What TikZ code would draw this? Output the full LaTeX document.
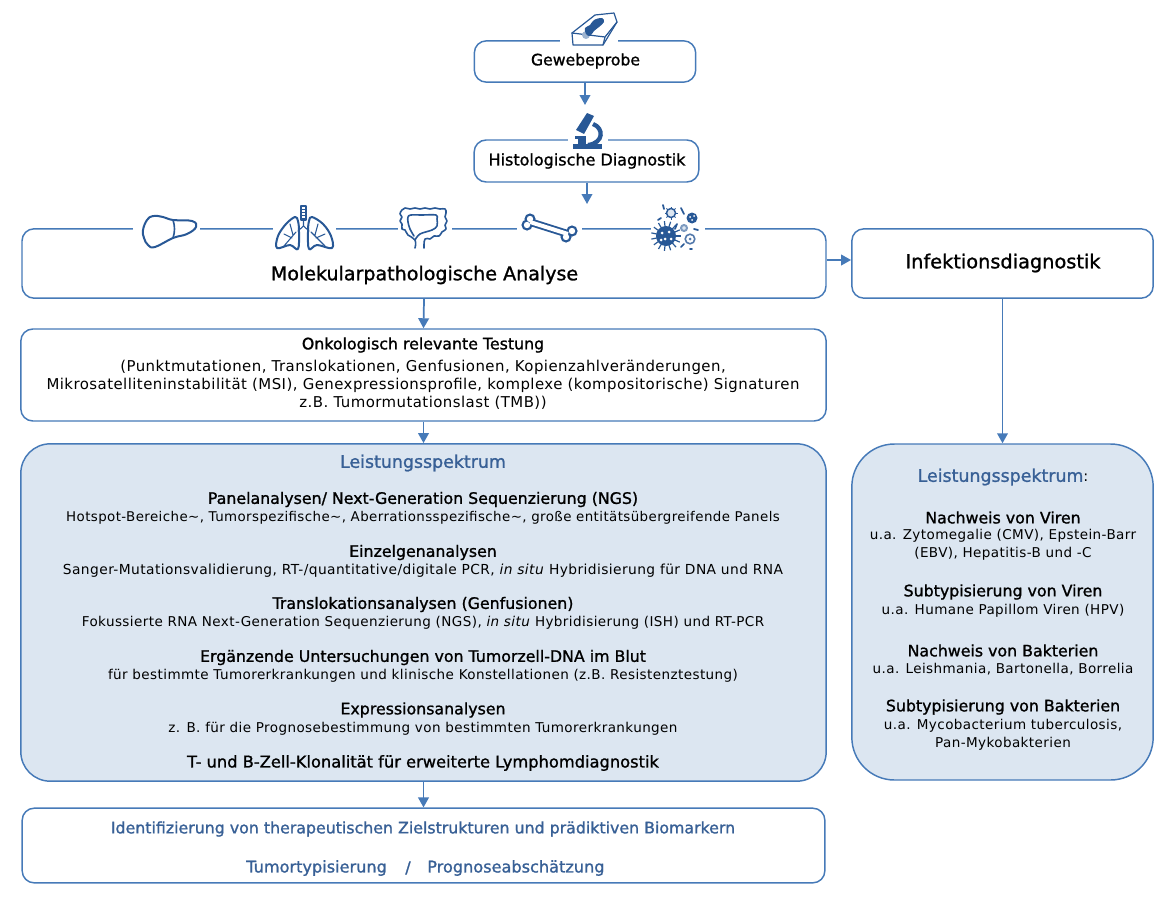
\documentclass[tikz,border=0pt]{standalone}
\usepackage{fontspec}
\setmainfont{DejaVu Sans}[LetterSpace=3]
\newfontfamily\headfont{DejaVu Sans}[FakeBold=1.2]
\usetikzlibrary{arrows.meta}
\definecolor{linkblue}{RGB}{70,122,184}
\definecolor{iconblue}{RGB}{40,88,150}
\definecolor{headblue}{RGB}{56,96,150}
\definecolor{panelblue}{RGB}{220,230,241}
\tikzset{
  flowbox/.style={draw=linkblue,line width=1.1pt,rounded corners=9pt,fill=white,inner sep=0pt,align=center},
  panelbox/.style={flowbox,fill=panelblue,rounded corners=22pt},
  flowarrow/.style={draw=linkblue,line width=1.3pt,-{Triangle[length=7.5pt,width=8pt]}},
  headtext/.style={font=\headfont\fontsize{11.85}{14}\selectfont,text=black,inner sep=0pt},
  subtext/.style={font=\fontsize{10.15}{13.5}\selectfont,text=black,inner sep=0pt,align=center},
  onkotext/.style={subtext,font=\fontsize{11.2}{13.5}\selectfont},
  titletext/.style={font=\headfont\fontsize{14.3}{16}\selectfont,text=black,inner sep=0pt},
  bluetext/.style={font=\headfont\fontsize{12.1}{14}\selectfont,text=headblue,inner sep=0pt},
  iconline/.style={draw=iconblue,line width=1.2pt,line join=round,line cap=round},
  gapfill/.style={fill=white,draw=none},
}
\begin{document}
\begin{tikzpicture}[x=0.75pt,y=-0.75pt]
  \useasboundingbox (0,0) rectangle (1170,899);
  % boxes
  \node[flowbox,minimum width=166pt,minimum height=31pt] (probe) at (585,61.5) {};
  \node[flowbox,minimum width=168.5pt,minimum height=31.5pt] (histo) at (586.5,161) {};
  \node[flowbox,minimum width=603pt,minimum height=52pt] (molek) at (424,263.5) {};
  \node[flowbox,minimum width=226pt,minimum height=52pt] (infekt) at (1002.5,263.5) {};
  \node[flowbox,minimum width=604pt,minimum height=69pt] (onko) at (423.5,375) {};
  \node[panelbox,minimum width=604pt,minimum height=253pt] (spektrum) at (423.5,612.5) {};
  \node[panelbox,rounded corners=32pt,minimum width=226pt,minimum height=252pt] (spektrumB) at (1002.5,612) {};
  \node[flowbox,minimum width=602pt,minimum height=56pt] (ziel) at (423.5,845.5) {};
  % gaps in the top lines
  \fill[gapfill] (560,38) rectangle (618,44);
  \fill[gapfill] (568,137) rectangle (608,143);
  \foreach \xa/\xb in {133/200,273/336,398/452,517/582,651/705}
    \fill[gapfill] (\xa,226) rectangle (\xb,232);
  % free arrow ends
  \coordinate (micro) at (585,105);
  \coordinate (organs) at (587,204);
  % arrows
  \draw[flowarrow] (probe.south) -- (micro);
  \draw[flowarrow] (histo.south -| organs) -- (organs);
  \draw[flowarrow] (molek.east |- 0,260) -- (infekt.west |- 0,260);
  \draw[flowarrow] (molek.south) -- (onko.north);
  \draw[flowarrow] (onko.south) -- (spektrum.north);
  \draw[flowarrow] (spektrum.south) -- (ziel.north);
  \draw[flowarrow] (infekt.south) -- (spektrumB.north);
  % tissue block
  \draw[iconline,line width=0.9pt] (573,45) -- (572,33) -- (595,15) -- (614,13) -- (617,22) -- (603,45) -- cycle;
  \draw[iconline,line width=0.9pt] (572,33) -- (605,37) -- (617,22) (605,37) -- (603,45);
  \fill[iconblue!45] (586,35) circle (4);
  \fill[iconblue] plot[smooth cycle,tension=0.6] coordinates {(585,28) (590,25) (594,20) (602,18) (604,22) (599,27) (594,31) (590,36) (586,34)};
  % microscope
  \fill[iconblue] (573,144) rectangle (602,149);
  \fill[iconblue] (575,136) rectangle (586,139);
  \fill[iconblue] (578,139) rectangle (586,144);
  \fill[iconblue] (587,113) -- (594,116) -- (584,134) -- (576,130) -- cycle;
  \draw[iconblue,line width=3.2pt] (593,124) .. controls (604,128) and (604,143) .. (588,145);
  % liver
  \draw[iconline,line width=1.5pt] plot[smooth cycle,tension=0.7] coordinates {(143,230) (147,220) (153,216) (163,217) (173,220) (192,221) (196,227) (187,234) (173,238) (155,247) (148,245) (144,238)};
  \draw[iconline] (173,220) .. controls (175,226) and (175,232) .. (173,238);
  % lungs
  \draw[iconline] (301,206) rectangle (306,220);
  \foreach \yy in {209,212,215,218} \draw[iconblue,line width=0.6pt] (301,\yy) -- (306,\yy);
  \draw[iconline,line width=1.5pt] plot[smooth cycle,tension=0.6] coordinates {(277,248) (278,236) (286,224) (295,217) (298,221) (299,232) (298,249) (290,245)};
  \draw[iconline,line width=1.5pt] plot[smooth cycle,tension=0.6] coordinates {(332,248) (331,236) (323,224) (312,217) (309,221) (308,232) (309,249) (317,245)};
  \draw[iconline,line width=0.8pt] (303.5,220) -- (303.5,226) -- (298,231) (296,232) -- (284,246) (292,238) -- (284,234) (293,235) -- (290,224);
  \draw[iconline,line width=0.8pt] (303.5,226) -- (309,231) (311,232) -- (325,246) (316,238) -- (325,234) (315,235) -- (318,224);
  % colon
  \draw[iconline] plot[smooth,tension=0.8] coordinates {(415,248) (415,240) (408,235) (405,230) (402,229) (402,224) (400,221) (402,217) (400,214) (402,210) (405,208) (410,209) (415,208) (420,209) (425,208) (430,209) (435,208) (440,209) (445,209) (446,213) (445,217) (447,221) (445,225) (446,229) (442,232) (439,236) (434,236) (430,239) (425,239) (424,248)};
  \draw[iconline] plot[smooth,tension=0.6] coordinates {(414,236) (410,229) (408,222) (408,217) (411,215) (422,215) (436,215) (437,219) (437,226) (432,230) (420,234) (415,240)};
  % bone
  \foreach \cx/\cy in {530/219,527/225,572/231,566/237} \fill[iconblue] (\cx,\cy) circle (5.6);
  \draw[iconblue,line width=5.8pt] (530,222) -- (568,234);
  \foreach \cx/\cy in {530/219,527/225,572/231,566/237} \fill[white] (\cx,\cy) circle (3.2);
  \draw[white,line width=3pt] (530,222) -- (568,234);
  % bacteria and viruses
  \fill[iconblue] (666,236) circle (10);
  \foreach \aa in {0,24,...,336}
    \draw[iconblue,line width=0.9pt] (666,236) -- ++(\aa:15);
  \foreach \dx/\dy in {-4/-3,3/-4,-1/3,5/3,-5/4}
    \fill[white] (666+\dx,236+\dy) circle (1.5);
  \draw[iconblue,line width=1.1pt,fill=panelblue] (671,213) circle (4.5);
  \foreach \aa in {0,45,...,315} \draw[iconblue,line width=0.6pt] (671,213) ++(\aa:4.5) -- ++(\aa:2);
  \fill[iconblue] (692,218) circle (5.5);
  \foreach \dx/\dy in {-2/-1,2/-2,0/2} \fill[white] (692+\dx,218+\dy) circle (1);
  \draw[iconblue!60,line width=1.5pt,fill=panelblue] (684,228) circle (3);
  \draw[iconblue!80,line width=1.2pt] (690,239) circle (4.8);
  \fill[iconblue!80] (690,239) circle (1.5);
  \foreach \xa/\ya/\xb/\yb in {663/205/664/209,681/208/684/214,658/220/661/218,677/224/675/229,694/229/698/230,681/247/684/244,690/249/692/249}
    \draw[iconblue,line width=1.3pt,line cap=round] (\xa,\ya) -- (\xb,\yb);
  % texts
  \node[headtext,font=\headfont\fontsize{11.75}{14}\selectfont] (probeT) at (585.5,61) {Gewebeprobe};
  \node[headtext,font=\headfont\fontsize{12}{14}\selectfont] (histoT) at (587,161) {Histologische Diagnostik};
  \node[titletext] (molekT) at (424.5,275) {Molekularpathologische Analyse};
  \node[titletext,font=\headfont\fontsize{14.5}{16}\selectfont] (infektT) at (1003,263) {Infektionsdiagnostik};
  \node[headtext] (onkoA) at (423,345) {Onkologisch relevante Testung};
  \node[onkotext] (onkoB) at (423,384.5) {(Punktmutationen, Translokationen, Genfusionen, Kopienzahlveränderungen,\\Mikrosatelliteninstabilität (MSI), Genexpressionsprofile, komplexe (kompositorische) Signaturen\\z.B. Tumormutationslast (TMB))};
  \node[bluetext,font=\headfont\fontsize{13.05}{16}\selectfont] (spekT) at (423,463) {Leistungsspektrum};
  \node[headtext] (panelA) at (423,499.5) {Panelanalysen/ Next-Generation Sequenzierung (NGS)};
  \node[subtext,font=\fontsize{10.05}{13.5}\selectfont] (panelB) at (423,518) {Hotspot-Bereiche\textasciitilde, Tumorspezifische\textasciitilde, Aberrationsspezifische\textasciitilde, große entitätsübergreifende Panels};
  \node[headtext] (einzelA) at (423,552.5) {Einzelgenanalysen};
  \node[subtext,font=\fontsize{10.35}{13.5}\selectfont] (einzelB) at (423,570.5) {Sanger-Mutationsvalidierung, RT-/quantitative/digitale PCR, \textit{in situ} Hybridisierung für DNA und RNA};
  \node[headtext] (transA) at (423,604.5) {Translokationsanalysen (Genfusionen)};
  \node[subtext] (transB) at (423,623) {Fokussierte RNA Next-Generation Sequenzierung (NGS), \textit{in situ} Hybridisierung (ISH) und RT-PCR};
  \node[headtext] (ergA) at (423,657.5) {Ergänzende Untersuchungen von Tumorzell-DNA im Blut};
  \node[subtext] (ergB) at (423,676) {für bestimmte Tumorerkrankungen und klinische Konstellationen (z.B. Resistenztestung)};
  \node[headtext] (exprA) at (423,710) {Expressionsanalysen};
  \node[subtext] (exprB) at (423,729) {z. B. für die Prognosebestimmung von bestimmten Tumorerkrankungen};
  \node[headtext,font=\headfont\fontsize{12.2}{14}\selectfont] (klonA) at (423,763) {T- und B-Zell-Klonalität für erweiterte Lymphomdiagnostik};
  \node[bluetext,font=\headfont\fontsize{13.05}{16}\selectfont] (spekB) at (1003,477) {Leistungsspektrum\textcolor{black}{\normalfont\fontsize{11}{14}\selectfont:}};
  \node[headtext] (virA) at (1003,517.5) {Nachweis von Viren};
  \node[subtext] (virB) at (1003,545) {u.a. Zytomegalie (CMV), Epstein-Barr\\(EBV), Hepatitis-B und -C};
  \node[headtext] (subvA) at (1003,592) {Subtypisierung von Viren};
  \node[subtext] (subvB) at (1003,610.5) {u.a. Humane Papillom Viren (HPV)};
  \node[headtext] (bakA) at (1003,650.5) {Nachweis von Bakterien};
  \node[subtext] (bakB) at (1003,669) {u.a. Leishmania, Bartonella, Borrelia};
  \node[headtext] (subbA) at (1003,707) {Subtypisierung von Bakterien};
  \node[subtext] (subbB) at (1003,734.5) {u.a. Mycobacterium tuberculosis,\\Pan-Mykobakterien};
  \node[bluetext,font=\headfont\fontsize{11.85}{14}\selectfont] (zielA) at (423,829) {Identifizierung von therapeutischen Zielstrukturen und prädiktiven Biomarkern};
  \node[bluetext] (zielB) at (246,868) [anchor=west] {Tumortypisierung};
  \node[bluetext] (zielC) at (408,868) {/};
  \node[bluetext] (zielD) at (427,868) [anchor=west] {Prognoseabschätzung};
\end{tikzpicture}
\end{document}
